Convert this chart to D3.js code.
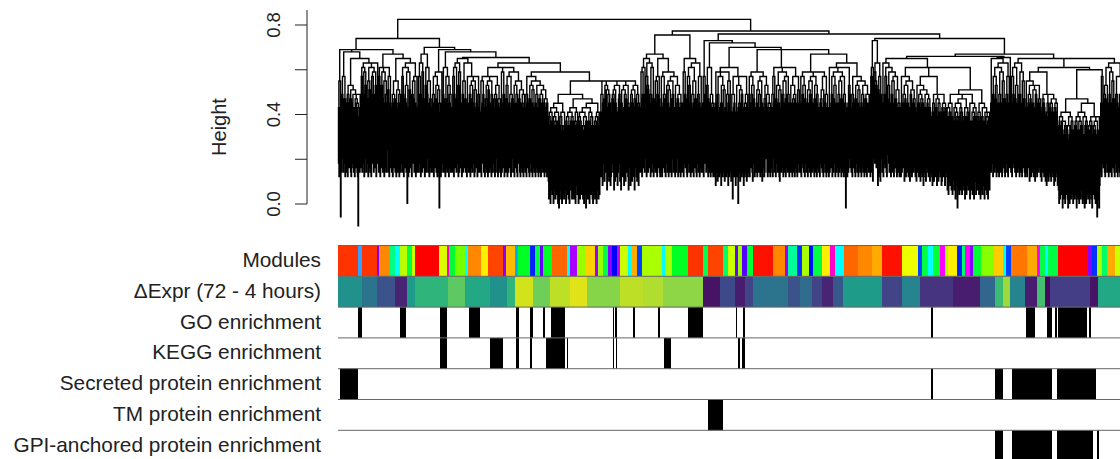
<!DOCTYPE html>
<html><head><meta charset="utf-8">
<script src="https://cdn.jsdelivr.net/npm/d3@7"></script>
<style>html,body{margin:0;padding:0;background:#fff;} svg{display:block;font-family:"Liberation Sans",Arial,Helvetica,sans-serif;}</style>
</head><body><svg id="c" width="1120" height="459"></svg>
<script>
// ---------------- data ----------------
const heightTicks = [0, 0.2, 0.4, 0.6, 0.8];
const heightTickLabels = ["0.0", "", "0.4", "", "0.8"];
const yLabel = "Height";
const rowLabels = ["Modules", "\u0394Expr (72 - 4 hours)", "GO enrichment", "KEGG enrichment",
  "Secreted protein enrichment", "TM protein enrichment", "GPI-anchored protein enrichment"];

// dendrogram: merge heights between neighbouring leaves, per cluster block
// code char k -> height 0.05 + k*0.02
const heightCode = "0123456789abcdefghijklmnopqrstuvwxyz";
const leafBlocks = [
  "jgpi7hwmkhqjlgi",
  "hkgmjiolhgknjihmgjlikhg5jmhi" + "u" +
  "iqhsjmgrkohtjlgpinhsgkqjmhrilogtjkwhqmgsiolhrjgpkihmsnhjgqki" + "v" +
  "hjgmkilhpgjnhikgmjh" + "u" + "jqhmgsilkhoajgrhnkitgmjlphkigqjh",
  "ihqjmgtkhrlivgjohsmkhpgjlih",
  "jhmgkqilhogjnh9kigrhwjmhskgilqhjogkmihj",
  "hjqgmiskhltjgohrkiugjmhpkilh" + "t" + "gkiqhjmgloihkpjghnikqgjmhi",
  "higpjkmhqgjilhognkhjpigmkhqjlgihmokgjhil" + "s" + "gjhrkimgsjhlogkhqijmghkl" + "r" + "hkgjoimhgkpjlhgnikhjgmi",
  "hjgmkiqhgljohkgnijhpgkmihjgolhkgjmihnkgjlhigk",
  "fbheaidgcjahdfbgeciag9kdhbfaecibfdmagchebfaidgebhcjbdgafeiclahdbgfciebfadhc9gbjebgaifcdhbakcfbgeahdibfc",
  "ighmekpjflhondgjmfkiegpljhmdnfkigoehjlmfpdkhgniejmflhokgdjipemhfkngjdliogfmkehj",
  "hjrglmishkuqgjohntikgmhsjlgivkhpjgmqilhg" + "u" + "jhgqkimhlgrjohkgnihjpglkmhqigjhoklgimhjgkh",
  "hkgrjmiuhglqjhokgsihmjgkpilhgtjmhkgqijh",
  "hkgqjmyhiolgkhsjgmihkgj",
  "gjekrhfmigqhjekogihnfjrgihmekgph" + "s" + "fihbmjgkqehigoajhkfnigmhqejgikhfmg",
  "hjgqkimhfoljgirhkgnjhimgpkhfjqighlkomhgjihkg" + "w" + "ijhgmkqhsgjlohikgfnjhrimgkhpjglqihmkgjshoigkhljgmiqhgkjnh",
  "hkgqjmihogljrhkginjhmgpkhiqjglhokgmjihrgkjlihngjqkhigmjh" + "v" +
  "gjhsikmgqhljogkhirjgmhkpiglhqjgmkh9isgjhkomi" + "t" + "hjgmkiqhgljohkgnijhpgkmihjgolhkgjmihk",
  "gmqhsfkyrjpliotegnqhfmk",
  "hkgtjmiqhgslojhkrgimhpjgkqilhgnjhkgi" + "u" + "gjhqkimfhlgojhkgpifjmhgnkhiljg" + "s" +
  "fihokgjmfhligkenhjgfmikhgljfih" + "q" + "gehkfimgjhelgfkhigmefjhgkiehj" +
  "sgdjchfiekdhcmfgdjbieg9hdkcfjdicgeldhbfjcheidmgbfkdgciebhfjcnedhgcifbkdhcgejbfidhcfbgid",
  "ihkujgmqhilogjhskgimhrjgkpilhgtjmhkgqji",
  "vhkgqjmishlgojhktigmhrjgkpilhg" + "u" + "jhgpkimfhlgojhkgnifjmhgokhiljg" + "r" + "fihlkgjmfhegikfmhjgfkihglejfihkge",
  "dafbhcge9cgbdafcieb9fcadhbgceadlbfcg9dhbeacgbfdiachb9dfagckbedafcgb9hdcfbeagc7dhb9e",
  "hkgjquimhglojhksgimhrjgkpilhgtjmhkgqijhgmkilhogjhkgmihjgklh"
];
// merge heights joining consecutive blocks
const blockJoins = [0.68, 0.74, 0.70, 0.68, 0.655, 0.63, 0.59, 0.55, 0.825, 0.755, 0.773,
  0.72, 0.70, 0.69, 0.76, 0.74, 0.66, 0.655, 0.61, 0.60];
const leafHang = 0.25;

// colour rows, positions in gene-order units (0..792)
const moduleSegments = [
  [0,20,"#FF3300"],[20,24,"#33A0FF"],[24,39,"#FF3300"],[39,41,"#8000FF"],[41,52,"#FF8800"],
  [52,57,"#00FF80"],[57,62,"#00FFFF"],[62,69,"#BBFF00"],[69,74,"#00FF40"],[74,77,"#CCFF00"],
  [77,101,"#FF0000"],[101,109,"#DDFF00"],[109,111,"#FF00CC"],[111,117,"#00FF33"],[117,127,"#77FF00"],
  [127,130,"#00FFFF"],[130,143,"#FF8800"],[143,150,"#FFEE00"],[150,165,"#FF4400"],[165,168,"#8800FF"],
  [168,177,"#FFBB00"],[177,180,"#00AAFF"],[180,192,"#00FF22"],[192,197,"#0022FF"],[197,202,"#00FF44"],
  [202,205,"#6600FF"],[205,214,"#00FF22"],[214,229,"#FF6600"],[229,232,"#00FFFF"],[232,239,"#AA00FF"],
  [239,247,"#99FF00"],[247,257,"#FFD000"],[257,260,"#9900FF"],[260,265,"#99FF00"],[265,270,"#00FF44"],
  [270,274,"#8800FF"],[274,279,"#0000FF"],[279,282,"#CC00FF"],[282,290,"#CCFF00"],[290,294,"#00FFFF"],
  [294,299,"#FFAA00"],[299,304,"#0044FF"],[304,324,"#AAFF00"],[324,327,"#00FFFF"],[327,334,"#AAFF00"],
  [334,350,"#00FF22"],[350,365,"#FF3300"],[365,370,"#00FF55"],[370,385,"#FF4400"],[385,390,"#00FF66"],
  [390,397,"#CCFF00"],[397,400,"#6600FF"],[400,404,"#99FF00"],[404,409,"#5500FF"],[409,415,"#00FF33"],
  [415,435,"#FF1100"],[435,447,"#FF8800"],[447,450,"#9900FF"],[450,459,"#00FF99"],[459,464,"#0033FF"],
  [464,471,"#AAFF00"],[471,475,"#0011FF"],[475,484,"#00FF44"],[484,492,"#FFEE00"],[492,497,"#FF00CC"],
  [497,506,"#00FFFF"],[506,520,"#FF6600"],[520,534,"#FF8800"],[534,544,"#FFAA00"],[544,564,"#FF1100"],
  [564,580,"#EEFF00"],[580,584,"#0044FF"],[584,590,"#00FF44"],[590,595,"#00FFFF"],[595,602,"#00FF33"],
  [602,607,"#FF00FF"],[607,610,"#AAFF00"],[610,619,"#FFEE00"],[619,624,"#0022FF"],[624,627,"#00FF66"],
  [627,632,"#FF00FF"],[632,635,"#8800FF"],[635,643,"#00FF33"],[643,656,"#88FF00"],[656,665,"#FFCC00"],
  [665,668,"#00FFFF"],[668,673,"#0044FF"],[673,689,"#FF7700"],[689,699,"#FFAA00"],[699,702,"#FF00FF"],
  [702,707,"#00FF44"],[707,710,"#00FFFF"],[710,720,"#00FF44"],[720,750,"#FF0000"],[750,754,"#8800FF"],
  [754,759,"#0033FF"],[759,764,"#AAFF00"],[764,769,"#00FF66"],[769,777,"#FFAA00"],[777,792,"#CCFF00"]
];
// expression change, value on viridis scale 0..1
const exprSegments = [
  [0,24,0.50],[24,39,0.38],[39,57,0.25],[57,69,0.10],[69,77,0.55],[77,110,0.65],[110,127,0.75],
  [127,152,0.60],[152,169,0.50],[169,177,0.65],[177,195,0.93],[195,212,0.78],[212,232,0.90],
  [232,249,0.95],[249,282,0.82],[282,305,0.90],[305,325,0.88],[325,365,0.83],[365,382,0.05],
  [382,397,0.22],[397,407,0.08],[407,415,0.20],[415,450,0.38],[450,462,0.25],[462,474,0.35],
  [474,484,0.20],[484,495,0.10],[495,505,0.27],[505,544,0.55],[544,564,0.20],[564,582,0.45],
  [582,615,0.15],[615,642,0.08],[642,657,0.33],[657,665,0.68],[665,672,0.85],[672,687,0.45],
  [687,699,0.08],[699,707,0.70],[707,712,0.02],[712,752,0.18],[752,760,0.05],[760,792,0.60]
];
const goSegments = [[20,24],[62,68],[102,109],[131,142],[178,181],[192,195],[205,207],[213,227],
  [275,276],[277,279],[295,297],[320,322],[350,365],[398,399],[405,407],[593,595],[688,697],
  [709,714],[717,719],[720,749],[751,753]];
const keggSegments = [[102,109],[152,165],[178,181],[192,194],[208,227],[229,230],[275,276],
  [278,279],[326,333],[400,402],[404,407]];
const secretedSegments = [[2,20],[593,595],[657,665],[674,714],[719,758]];
const tmSegments = [[370,385]];
const gpiSegments = [[657,665],[674,714],[719,755],[759,761]];

// ---------------- drawing ----------------
const svg = d3.select("#c");
const plotLeft = 338, plotRight = 1130;
const y = d3.scaleLinear().domain([0, 0.8]).range([204, 25]);

// build leaf-gap sequence
const gaps = [];
leafBlocks.forEach((b, i) => {
  for (const ch of b) gaps.push(0.05 + heightCode.indexOf(ch) * 0.02);
  if (i < blockJoins.length) gaps.push(blockJoins[i]);
});
const nLeaves = gaps.length + 1;
const xLeaf = d3.scaleLinear().domain([0, nLeaves - 1]).range([plotLeft + 0.5, plotRight]);

function build(l, r) {
  if (l === r) return {leaf: true, x: l};
  let m = l;
  for (let i = l; i < r; i++) if (gaps[i] > gaps[m]) m = i;
  const left = build(l, m), right = build(m + 1, r);
  return {leaf: false, x: (left.x + right.x) / 2, h: gaps[m], left, right};
}
const root = build(0, nLeaves - 1);
let pathStr = "";
(function walk(n) {
  if (n.leaf) return;
  const tl = n.left.leaf ? n.h - leafHang : n.left.h;
  const tr = n.right.leaf ? n.h - leafHang : n.right.h;
  pathStr += `M${xLeaf(n.left.x).toFixed(2)},${y(tl).toFixed(2)}V${y(n.h).toFixed(2)}H${xLeaf(n.right.x).toFixed(2)}V${y(tr).toFixed(2)}`;
  walk(n.left); walk(n.right);
})(root);
svg.append("path").attr("d", pathStr).attr("fill", "none").attr("stroke", "#000").attr("stroke-width", 1.4);

// y axis
const axisX = 307;
const ax = svg.append("g");
ax.append("line").attr("x1", axisX).attr("x2", axisX).attr("y1", 10).attr("y2", y(0)).attr("stroke", "#222");
heightTicks.forEach((t, i) => {
  ax.append("line").attr("x1", axisX - 12).attr("x2", axisX).attr("y1", y(t)).attr("y2", y(t)).attr("stroke", "#222");
  if (heightTickLabels[i]) ax.append("text").attr("transform", `translate(280,${y(t)}) rotate(-90)`)
    .attr("text-anchor", "middle").attr("font-size", 18.5).attr("fill", "#222").text(heightTickLabels[i]);
});
svg.append("text").attr("transform", "translate(226,127) rotate(-90)").attr("text-anchor", "middle")
  .attr("font-size", 20).attr("fill", "#222").text(yLabel);

// colour rows
const xGene = d3.scaleLinear().domain([0, 792]).range([plotLeft, plotRight]);
const rowTop = 245.5, rowH = 30.8;
const rowY = i => rowTop + i * rowH;
const g = svg.append("g");
g.selectAll("rect.mod").data(moduleSegments).join("rect").attr("class", "mod")
  .attr("x", d => xGene(d[0])).attr("width", d => xGene(d[1]) - xGene(d[0]))
  .attr("y", rowY(0)).attr("height", rowH).attr("fill", d => d[2]);
g.selectAll("rect.expr").data(exprSegments).join("rect").attr("class", "expr")
  .attr("x", d => xGene(d[0])).attr("width", d => xGene(d[1]) - xGene(d[0]))
  .attr("y", rowY(1)).attr("height", rowH).attr("fill", d => d3.interpolateViridis(d[2]));
[goSegments, keggSegments, secretedSegments, tmSegments, gpiSegments].forEach((segs, k) => {
  g.append("g").selectAll("rect").data(segs).join("rect")
    .attr("x", d => xGene(d[0])).attr("width", d => xGene(d[1]) - xGene(d[0]))
    .attr("y", rowY(k + 2)).attr("height", rowH).attr("fill", "#000");
});
for (let i = 0; i <= rowLabels.length; i++) {
  g.append("line").attr("x1", plotLeft).attr("x2", plotRight).attr("y1", rowY(i)).attr("y2", rowY(i))
    .attr("stroke", "#666").attr("stroke-width", 1);
}
rowLabels.forEach((t, i) => {
  svg.append("text").attr("x", 321).attr("y", rowY(i) + rowH / 2 + 6).attr("text-anchor", "end")
    .attr("font-size", 20.8).attr("fill", "#222").text(t);
});
</script></body></html>
